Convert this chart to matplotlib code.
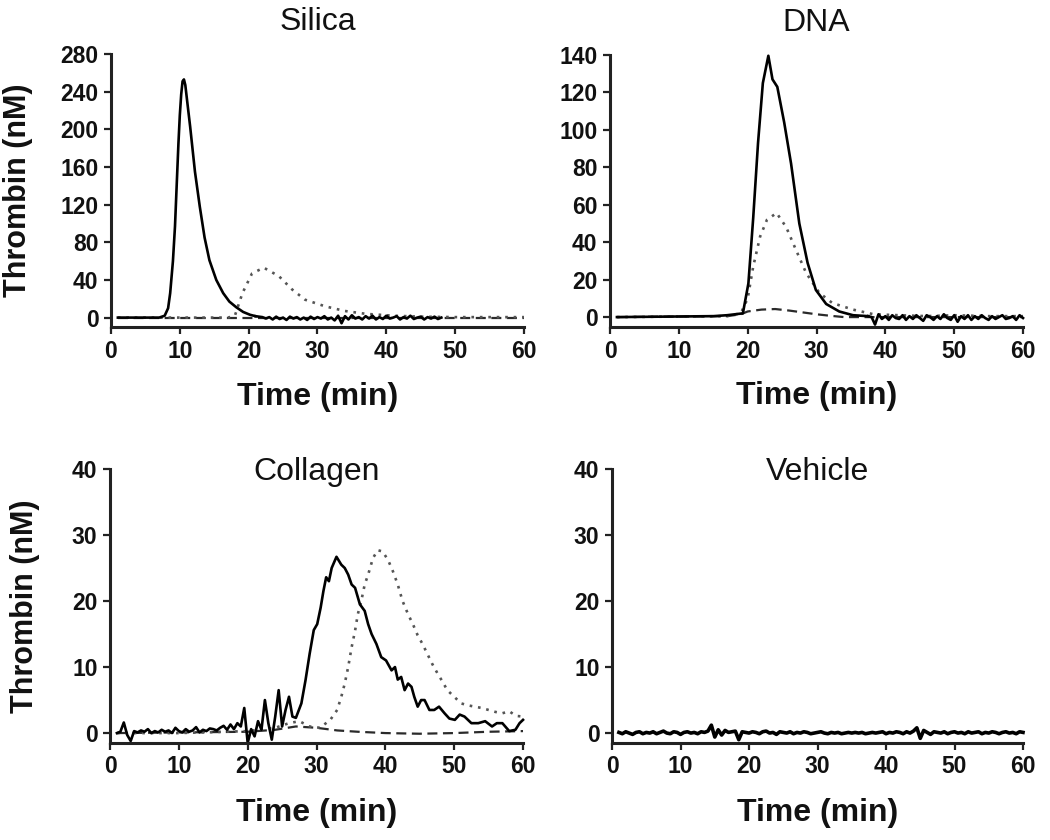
import numpy as np
import matplotlib
matplotlib.use("Agg")
import matplotlib.pyplot as plt

plt.rcParams['font.family'] = ['Liberation Sans', 'DejaVu Sans']
plt.rcParams['font.weight'] = 'bold'

# ---- Silica ----
silica_solid_t = [1, 7, 7.8, 8.3, 8.6, 9.0, 9.3, 9.6, 9.8, 10.0, 10.2, 10.4, 10.6, 10.8,
                  11.1, 11.5, 12.2, 12.9, 13.6, 14.3, 15.3, 16.3, 17.2, 18.2, 19.2, 20.2, 21]
silica_solid_y = [0, 0, 2, 10, 26, 60, 97, 150, 185, 215, 237, 251, 253, 247,
                  228, 203, 155, 118, 85, 61, 40, 26, 17, 11, 6, 3, 1.5]
silica_tail_t = np.arange(21.5, 48.01, 0.5)
silica_tail_y = [1, 0.5, -1, 0.5, -2, 1, -1.5, 0, -2.5, 1,
                 -1, 0.5, -2, 0, -2.5, 1, -1.5, 0.5, -1, 1.5,
                 -2, 0, -3, 2, -6, 1.5, -2, 2.5, -1, 0.5,
                 -2, 1.5, -1, 2, -2, 0.5, -1.5, 2, -1, 0,
                 1.5, -2, 0.5, -1, 2, -1.5, 0, 1, -2, 0.5,
                 -1, 1, -1.5, 0]
silica_dot_t = [1, 17, 18, 19.1, 20.5, 22.2, 24.4, 26.3, 28.2, 31.1, 34, 37, 41, 45, 50, 55, 60]
silica_dot_y = [0, 0, 2, 26, 47, 53, 44, 30, 19, 12, 7, 4, 2, 1, 0.5, 0.5, 0.5]
silica_dash_t = [1, 60]
silica_dash_y = [0, 0]

# ---- DNA ----
dna_solid_t = [1, 15, 17, 19.3, 20.1, 20.8, 21.5, 22.2, 23.0, 23.6, 24.3, 25.3, 26.3,
               27.5, 28.7, 29.9, 31.4, 33.3, 35.3, 37.5]
dna_solid_y = [0, 0.5, 1, 2, 18, 53, 93, 125, 139.6, 127, 123, 104, 82,
               50, 29, 14.5, 7, 3, 1, 0.5]
dna_tail_t = np.arange(38, 60.01, 0.5)
dna_tail_y = [0, -4, 1.5, -1, 0.5, -1.5, 1, -0.5, -1, 1,
              -1.5, 0.5, -1, 1, -0.5, -2, 1, 0, -1.5, 0.5,
              -1, 1.5, -0.5, -1.5, 1, -2.5, 0.5, -1, 1, -1.5,
              0.5, -1, 1, -0.5, -1.5, 0.5, -1, 0, 1, -1,
              -0.5, 0.5, -1.5, 1, -0.5]
dna_dot_t = [1, 17, 19, 20, 20.8, 21.8, 22.8, 24.2, 25.6, 27, 28.5, 30.4, 32.3, 35.3,
             38.3, 42, 46, 50, 55, 60]
dna_dot_y = [0, 0.5, 2, 10, 27, 43, 52, 55.6, 48, 36, 23.5, 13, 7.5, 4,
             1.5, 1, 0.5, 1, 0.5, 0.5]
dna_dash_t = [1, 17, 19, 20, 22, 24, 26, 28, 30, 32, 34, 60]
dna_dash_y = [0, 0.5, 1.5, 3, 4, 4.3, 3.5, 2.5, 1.5, 0.7, 0, 0]

# ---- Collagen ----
col_base_t = np.arange(1, 27.01, 0.5)
col_base_y = [0, 0.2, 1.6, -0.3, -1.2, 0.3, 0.1, 0.4, 0.2, 0.6,
              0, 0.3, 0.1, 0.5, 0.2, 0.4, 0, 0.8, 0.3, 0.1,
              0.6, 0.2, 0.4, 0.9, 0.1, 0.5, 0.3, 0.7, 0.6, 0.4,
              0.8, 1.1, 0.5, 1.3, 0.6, 1.5, 1.0, 3.8, -1.5, 0.6,
              -0.5, 1.8, 0.5, 5.0, 1.5, -1.0, 2.5, 6.5, 1.0, 3.5,
              5.5, 2.5, 2.3]
col_peak_t = [27.8, 28.4, 29, 29.6, 30.1, 30.6, 31, 31.4, 31.8, 32.2,
              32.9, 33.6, 34.1, 34.6, 35.1, 35.6, 36.3, 37, 37.5, 38,
              38.7, 39.4, 40.1, 40.9, 41.4, 41.8, 42.3, 42.8, 43.3, 43.8,
              44.2, 44.7, 45.2, 45.7, 46.4, 47.1, 47.8, 48.6, 49.3, 50.1,
              50.8, 51.5, 52.5, 53.5, 54.5, 55.5, 56.2, 57, 58, 58.9,
              59.5, 60]
col_peak_y = [4.5, 8, 12, 15.6, 16.5, 19, 21.5, 23.6, 23, 25,
              26.7, 25.5, 25, 24, 22.5, 22, 19.5, 18.5, 16.5, 15,
              13.5, 11.5, 11, 9.5, 10, 8.1, 8.5, 6.5, 7.5, 7,
              5.5, 4, 5, 5, 3.5, 3.5, 4, 3, 2.2, 2,
              2.8, 2.5, 1.5, 1.5, 1.8, 1, 1.5, 1.5, 0.3, 0.5,
              1.5, 2]
col_dot_t = [1, 10, 20, 24, 26, 27.5, 29, 30.5, 32, 33,
             33.6, 34.1, 34.6, 35.1, 35.6, 36, 36.5, 37, 37.5, 38.2,
             38.9, 39.6, 40.4, 41.1, 41.8, 42.5, 43.3, 44, 44.7, 45.4,
             46.1, 46.8, 47.6, 48.3, 49, 50, 51, 52, 53, 54,
             55, 56, 57, 58, 59, 60]
col_dot_y = [0, 0, 0.3, 0.8, 1.5, 1.8, 1, 0.8, 2, 3.5,
             5.5, 7.5, 10, 13, 15.5, 18, 20, 22.5, 24, 26.5,
             27.7, 27.5, 26.2, 24.5, 22.5, 20, 18, 16.5, 14.8, 13.5,
             12, 10.5, 9, 7.8, 6.5, 5.5, 4.5, 4.2, 4, 3.8,
             3.5, 3.2, 3, 3.3, 2.6, 2.5]
col_dash_t = [1, 20, 24, 27, 30, 33, 36, 40, 45, 50, 55, 60]
col_dash_y = [0, 0.2, 0.5, 1, 0.8, 0.4, 0.2, 0, -0.1, 0, 0.2, 0.3]

# ---- Vehicle ----
veh_t = np.arange(1, 60.01, 0.5)
veh_y = [0.1, -0.1, 0.2, 0, -0.2, 0.1, 0.2, -0.1, 0.1, 0,
         0.2, -0.1, 0.1, 0.3, 0, -0.1, 0.2, 0.1, -0.2, 0.1,
         0.2, 0, 0.1, -0.1, 0.2, 0.1, 0.3, 1.2, -0.6, 0.5,
         -0.3, 0.4, 0.1, 0.2, 0.3, -1.0, 0.2, 0.1, 0, 0.2,
         0.1, -0.1, 0.2, 0.3, 0, 0.1, -0.2, 0.2, 0.1, 0,
         0.2, -0.1, 0.1, 0, 0.2, 0.1, -0.1, 0, 0.1, 0.2,
         0, -0.1, 0.1, 0, 0.1, -0.1, 0, 0.1, 0, 0.1,
         0, 0.1, -0.1, 0, 0.1, 0, 0.1, 0.2, -0.1, 0.1,
         0, 0.2, 0.1, -0.1, 0.2, 0, 0.3, 0.8, -0.8, 0.4,
         0.1, -0.2, 0.2, 0.1, 0, 0.2, -0.1, 0.1, 0.2, 0,
         0.1, -0.1, 0.2, 0, 0.1, 0.2, -0.1, 0.1, 0, 0.2,
         0.1, -0.1, 0.1, 0.2, 0, 0.1, -0.1, 0.2, 0.1]

fig = plt.figure(figsize=(10.5, 8.4), dpi=100)
ax_si = fig.add_axes([0.1057, 0.6107, 0.3933, 0.3250])
ax_dna = fig.add_axes([0.5810, 0.6107, 0.3933, 0.3238])
ax_col = fig.add_axes([0.1048, 0.1155, 0.3933, 0.3262])
ax_veh = fig.add_axes([0.5829, 0.1155, 0.3914, 0.3262])


def style(ax, ylim, yticks, title, title_y, ylabel=None, ylabel_x=-0.19):
    ax.set_xlim(0, 60)
    ax.set_ylim(*ylim)
    ax.set_xticks(range(0, 61, 10))
    ax.set_yticks(yticks)
    for s in ['top', 'right']:
        ax.spines[s].set_visible(False)
    for s in ['left', 'bottom']:
        ax.spines[s].set_linewidth(2.2)
        ax.spines[s].set_color('#222222')
    ax.tick_params(direction='out', length=5, width=1.6, labelsize=16.5, pad=4,
                   color='#222222', labelcolor='#111111')
    ax.set_xlabel('Time (min)', fontsize=23, fontweight='bold', color='#111111')
    ax.xaxis.set_label_coords(0.5, -0.2)
    ax.xaxis.label.set_va('top')
    if ylabel:
        ax.set_ylabel(ylabel, fontsize=22, fontweight='bold', color='#111111')
        ax.yaxis.set_label_coords(ylabel_x, 0.5)
    ax.text(0.5, title_y, title, transform=ax.transAxes, ha='center', va='center',
            fontsize=23, fontweight='normal', color='#111111')


def draw(ax, solid, dot, dash):
    ax.plot(*dash, color='#2a2a2a', lw=1.6, dashes=(4.5, 2.5), clip_on=False)
    ax.plot(*dot, color='#555555', lw=1.9, linestyle=(0, (1, 2.2)), clip_on=False)
    for t, y in solid:
        ax.plot(t, y, color='black', lw=1.9, clip_on=False)


draw(ax_si, [(silica_solid_t, silica_solid_y), (np.r_[21, silica_tail_t], np.r_[1.5, silica_tail_y])],
     (silica_dot_t, silica_dot_y), (silica_dash_t, silica_dash_y))
style(ax_si, (-10, 280), range(0, 281, 40), 'Silica', 1.117, 'Thrombin (nM)', -0.19)

draw(ax_dna, [(dna_solid_t, dna_solid_y), (np.r_[37.5, dna_tail_t], np.r_[0.5, dna_tail_y])],
     (dna_dot_t, dna_dot_y), (dna_dash_t, dna_dash_y))
style(ax_dna, (-5.3, 140), range(0, 141, 20), 'DNA', 1.117)

draw(ax_col, [(np.r_[col_base_t, col_peak_t], np.r_[col_base_y, col_peak_y])],
     (col_dot_t, col_dot_y), (col_dash_t, col_dash_y))
style(ax_col, (-1.5, 40), range(0, 41, 10), 'Collagen', 0.989, 'Thrombin (nM)', -0.17)

ax_veh.plot(veh_t, veh_y, color='black', lw=2.6, clip_on=False)
style(ax_veh, (-1.5, 40), range(0, 41, 10), 'Vehicle', 0.989)

fig.savefig('out.png', dpi=100)
